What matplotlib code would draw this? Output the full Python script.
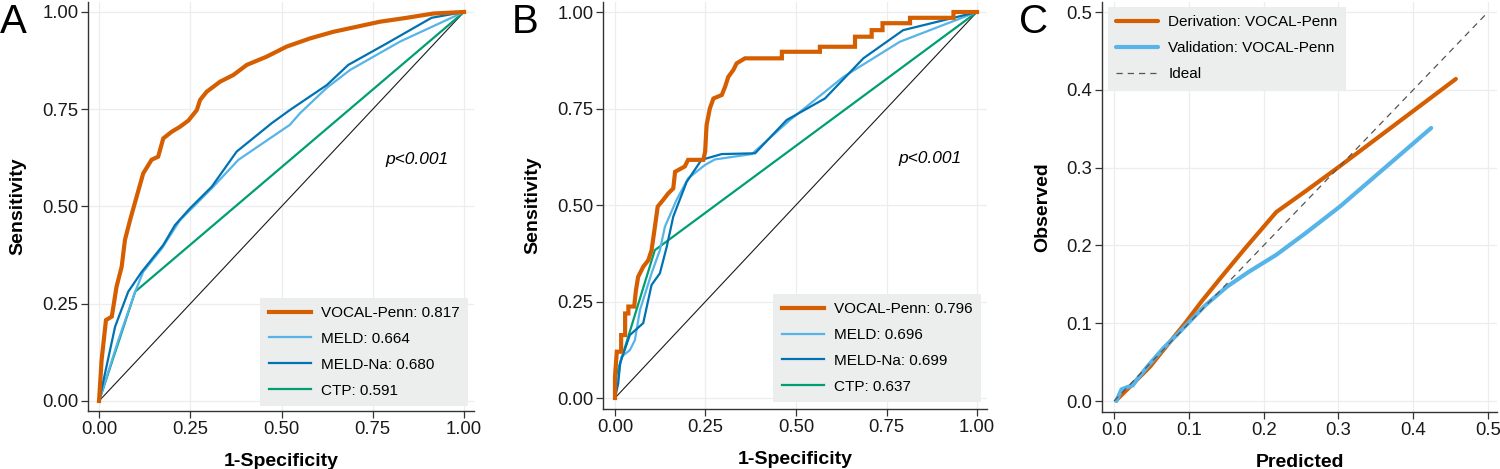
#!/usr/bin/env python3
"""
ROC curves (derivation / validation) and calibration plot for VOCAL-Penn
"""

import matplotlib.pyplot as plt

plt.rcParams['font.family'] = ['Liberation Sans', 'DejaVu Sans']

# ---- Panel A: derivation cohort ROC ----
A_VOCAL_FPR = [0, 0.007, 0.019, 0.035, 0.048, 0.062, 0.071, 0.085, 0.103, 0.121, 0.144, 0.162,
               0.176, 0.199, 0.222, 0.245, 0.268, 0.277, 0.295, 0.332, 0.368, 0.405, 0.459, 0.514,
               0.578, 0.642, 0.706, 0.770, 0.843, 0.916, 1.0]
A_VOCAL_TPR = [0, 0.105, 0.208, 0.217, 0.294, 0.345, 0.414, 0.465, 0.525, 0.585, 0.620, 0.628,
               0.675, 0.692, 0.705, 0.721, 0.748, 0.774, 0.795, 0.821, 0.838, 0.864, 0.885, 0.911,
               0.932, 0.949, 0.962, 0.975, 0.985, 0.996, 1.0]
A_MELD_FPR = [0, 0.053, 0.099, 0.121, 0.172, 0.222, 0.268, 0.309, 0.382, 0.523, 0.551, 0.624,
              0.688, 0.825, 1.0]
A_MELD_TPR = [0, 0.157, 0.281, 0.332, 0.392, 0.465, 0.508, 0.547, 0.620, 0.710, 0.740, 0.805,
              0.851, 0.924, 1.0]
A_MELDNA_FPR = [0, 0.044, 0.080, 0.117, 0.176, 0.208, 0.249, 0.309, 0.377, 0.473, 0.523, 0.624,
                0.683, 0.788, 0.911, 1.0]
A_MELDNA_TPR = [0, 0.191, 0.281, 0.332, 0.401, 0.452, 0.495, 0.551, 0.641, 0.714, 0.748, 0.812,
                0.864, 0.919, 0.985, 1.0]
A_CTP_FPR = [0, 0.099, 1.0]
A_CTP_TPR = [0, 0.281, 1.0]
A_AUC = ['0.817', '0.664', '0.680', '0.591']

# ---- Panel B: validation cohort ROC ----
B_VOCAL_FPR = [0, 0, 0.005, 0.017, 0.017, 0.028, 0.028, 0.037, 0.037, 0.053, 0.058, 0.064,
               0.078, 0.092, 0.101, 0.109, 0.118, 0.133, 0.147, 0.161, 0.166, 0.193, 0.202,
               0.244, 0.249, 0.253, 0.262, 0.272, 0.295, 0.304, 0.313, 0.327, 0.336, 0.359,
               0.461, 0.461, 0.566, 0.566, 0.663, 0.663, 0.709, 0.709, 0.739, 0.739, 0.815,
               0.815, 0.935, 0.935, 1.0]
B_VOCAL_TPR = [0, 0.055, 0.120, 0.120, 0.163, 0.163, 0.219, 0.219, 0.237, 0.237, 0.280, 0.314,
               0.340, 0.357, 0.383, 0.435, 0.496, 0.513, 0.530, 0.543, 0.586, 0.600, 0.617,
               0.617, 0.638, 0.707, 0.750, 0.776, 0.785, 0.806, 0.832, 0.850, 0.867, 0.880,
               0.880, 0.897, 0.897, 0.910, 0.910, 0.936, 0.936, 0.953, 0.953, 0.971, 0.971,
               0.985, 0.985, 1.0, 1.0]
B_MELD_FPR = [0, 0.018, 0.041, 0.055, 0.069, 0.101, 0.124, 0.138, 0.170, 0.202, 0.249, 0.276,
              0.378, 0.483, 0.631, 0.787, 1.0]
B_MELD_TPR = [0, 0.107, 0.124, 0.150, 0.228, 0.323, 0.383, 0.444, 0.513, 0.569, 0.604, 0.618,
              0.632, 0.720, 0.832, 0.923, 1.0]
B_MELDNA_FPR = [0, 0.009, 0.014, 0.041, 0.078, 0.101, 0.124, 0.143, 0.161, 0.198, 0.239, 0.295,
                0.387, 0.474, 0.580, 0.686, 0.796, 0.935, 1.0]
B_MELDNA_TPR = [0, 0.038, 0.090, 0.163, 0.194, 0.293, 0.323, 0.392, 0.470, 0.560, 0.617, 0.632,
                0.634, 0.720, 0.776, 0.880, 0.953, 0.985, 1.0]
B_CTP_FPR = [0, 0, 0.110, 1.0]
B_CTP_TPR = [0, 0.047, 0.383, 1.0]
B_AUC = ['0.796', '0.696', '0.699', '0.637']

# ---- Panel C: calibration ----
C_DERIV_PRED = [0.004, 0.024, 0.048, 0.073, 0.095, 0.117, 0.144, 0.175, 0.217, 0.255, 0.302, 0.457]
C_DERIV_OBS = [0.002, 0.021, 0.044, 0.074, 0.100, 0.128, 0.160, 0.196, 0.243, 0.269, 0.302, 0.414]
C_VALID_PRED = [0.003, 0.010, 0.018, 0.025, 0.030, 0.046, 0.066, 0.084, 0.097, 0.122, 0.151,
                0.180, 0.217, 0.255, 0.302, 0.424]
C_VALID_OBS = [0.0, 0.015, 0.018, 0.020, 0.027, 0.046, 0.068, 0.085, 0.098, 0.123, 0.147,
               0.166, 0.188, 0.215, 0.250, 0.351]

ROC_TICKS = [0, 0.25, 0.5, 0.75, 1.0]
CAL_TICKS = [0, 0.1, 0.2, 0.3, 0.4, 0.5]

ORANGE = '#D55E00'
SKY = '#56B4E9'
BLUE = '#0072B2'
GREEN = '#009E73'
LEGEND_BG = '#ECEDED'

LEGEND_KW = dict(borderaxespad=0, fontsize=11, frameon=True, fancybox=False,
                 facecolor=LEGEND_BG, edgecolor='none', framealpha=1,
                 handlelength=2.75, handletextpad=0.65, labelspacing=0.78,
                 borderpad=0.55)


def style_axes(ax, ticks, xlim, ylim, xlabel, ylabel, fmt):
    """Common ggplot-like styling: left/bottom spines, faint grid"""
    ax.set_xlim(*xlim)
    ax.set_ylim(*ylim)
    ax.set_xticks(ticks)
    ax.set_yticks(ticks)
    ax.set_xticklabels([fmt.format(t) for t in ticks])
    ax.set_yticklabels([fmt.format(t) for t in ticks])
    ax.grid(True, color='#EDEDED', linewidth=0.9)
    ax.set_axisbelow(True)
    for side in ['top', 'right']:
        ax.spines[side].set_visible(False)
    for side in ['left', 'bottom']:
        ax.spines[side].set_color('#333333')
        ax.spines[side].set_linewidth(1.0)
    ax.tick_params(direction='out', length=5, width=0.9, labelsize=13.3, pad=2,
                   color='#333333', labelcolor='#1a1a1a')
    ax.set_xlabel(xlabel, fontsize=14, fontweight='bold', labelpad=11)
    ax.set_ylabel(ylabel, fontsize=14, fontweight='bold', labelpad=11)


def plot_roc(ax, curves, aucs, anchor):
    """Draw ROC curves with the chance diagonal and AUC legend"""
    ax.plot([0, 1], [0, 1], color='#1a1a1a', linewidth=0.8)
    names = ['VOCAL-Penn', 'MELD', 'MELD-Na', 'CTP']
    colors = [ORANGE, SKY, BLUE, GREEN]
    widths = [3.0, 1.6, 1.6, 1.6]
    handles = {}
    # draw CTP first, VOCAL-Penn last so it sits on top
    for i in [3, 1, 2, 0]:
        fpr, tpr = curves[i]
        line, = ax.plot(fpr, tpr, color=colors[i], linewidth=widths[i],
                        solid_joinstyle='miter', label=f'{names[i]}: {aucs[i]}')
        handles[i] = line
    ax.legend(handles=[handles[i] for i in range(4)], loc='lower right',
              bbox_to_anchor=anchor, **LEGEND_KW)
    ax.text(0.87, 0.62, 'p<0.001', style='italic', fontsize=12.5, ha='center', va='center')


fig = plt.figure(figsize=(15, 4.69), dpi=100)

# Panel A
axA = fig.add_axes([0.0587, 0.1237, 0.2573, 0.8721])
style_axes(axA, ROC_TICKS, (-0.0301, 1.0274), (-0.0257, 1.0257),
           '1-Specificity', 'Sensitivity', '{:.2f}')
plot_roc(axA, [(A_VOCAL_FPR, A_VOCAL_TPR), (A_MELD_FPR, A_MELD_TPR),
               (A_MELDNA_FPR, A_MELDNA_TPR), (A_CTP_FPR, A_CTP_TPR)],
         A_AUC, (0.984, 0.012))

# Panel B
axB = fig.add_axes([0.402, 0.1279, 0.256, 0.8678])
style_axes(axB, ROC_TICKS, (-0.0331, 1.0276), (-0.0285, 1.0259),
           '1-Specificity', 'Sensitivity', '{:.2f}')
plot_roc(axB, [(B_VOCAL_FPR, B_VOCAL_TPR), (B_MELD_FPR, B_MELD_TPR),
               (B_MELDNA_FPR, B_MELDNA_TPR), (B_CTP_FPR, B_CTP_TPR)],
         B_AUC, (0.984, 0.017))

# Panel C
axC = fig.add_axes([0.7347, 0.1215, 0.2633, 0.8742])
style_axes(axC, CAL_TICKS, (-0.016, 0.512), (-0.0141, 0.5129),
           'Predicted', 'Observed', '{:.1f}')
axC.plot(C_DERIV_PRED, C_DERIV_OBS, color=ORANGE, linewidth=3.0,
         solid_capstyle='round', label='Derivation: VOCAL-Penn')
axC.plot(C_VALID_PRED, C_VALID_OBS, color=SKY, linewidth=3.0,
         solid_capstyle='round', label='Validation: VOCAL-Penn')
axC.plot([0, 0.5], [0, 0.5], color='#555555', linewidth=0.9, dashes=(5, 4), label='Ideal')
axC.legend(loc='upper left', bbox_to_anchor=(0.015, 0.988), **LEGEND_KW)

# panel letters
for x, letter in [(0.0, 'A'), (0.341, 'B'), (0.679, 'C')]:
    fig.text(x, 0.93, letter, fontsize=29, ha='left', va='baseline')

fig.savefig('out.png', dpi=100)
